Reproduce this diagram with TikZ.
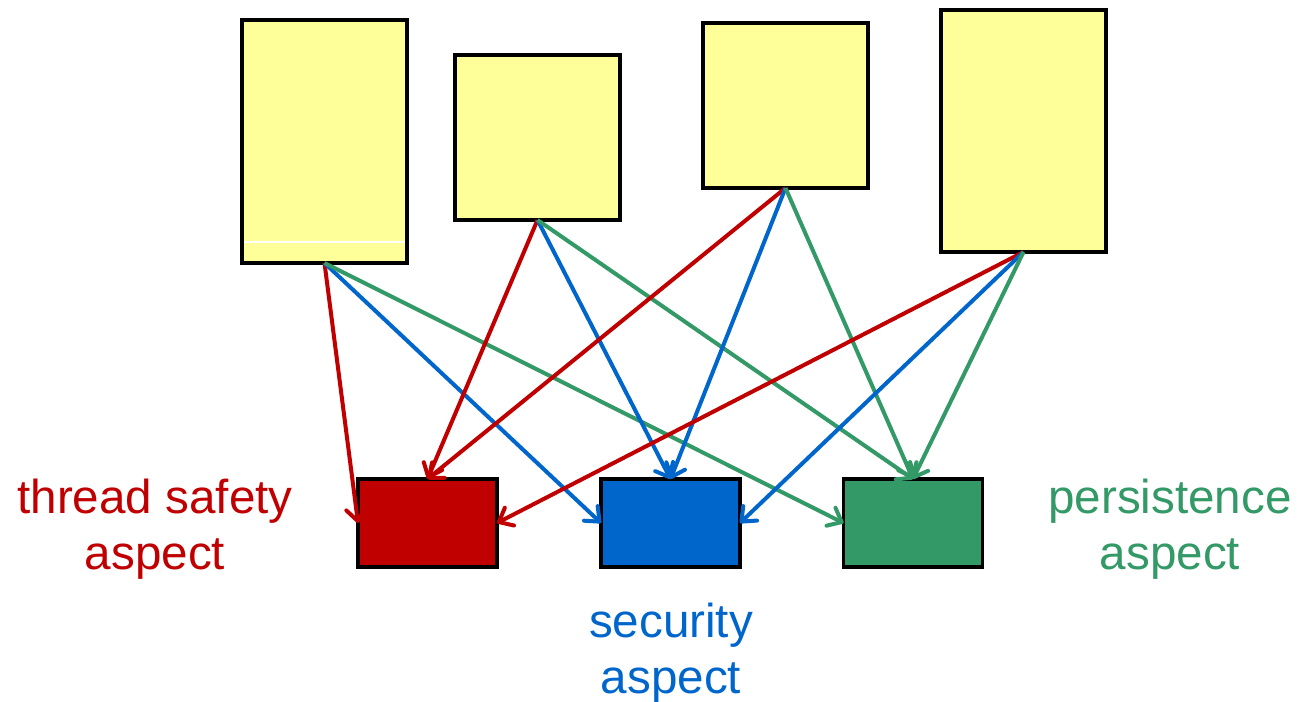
\documentclass[tikz,border=0pt]{standalone}
\usepackage{fontspec}
\setmainfont{Liberation Sans}
\usetikzlibrary{arrows.meta}
\definecolor{cred}{HTML}{C00000}
\definecolor{cblue}{HTML}{0066CC}
\definecolor{cgreen}{HTML}{339966}
\definecolor{pale}{HTML}{FFFF99}
\tikzset{
  module/.style={draw=black, fill=pale, line width=3.2pt, inner sep=0pt, outer sep=0pt},
  aspectbox/.style={draw=black, line width=3.2pt, inner sep=0pt, outer sep=0pt,
    minimum width=139pt, minimum height=88pt},
  link/.style={line width=4pt, -{Straight Barb[length=12pt,width=20pt,line width=4pt,round]}},
  lbl/.style={font=\fontsize{47.6}{56}\selectfont, align=center, inner sep=0pt}
}
\begin{document}
\begin{tikzpicture}[x=1pt,y=-1pt]
\useasboundingbox (0,0) rectangle (1297,701);
% code modules
\node[module, minimum width=165pt, minimum height=243pt] (m1) at (324.5,141.5) {};
\node[module, minimum width=165pt, minimum height=165pt] (m2) at (537.5,137.5) {};
\node[module, minimum width=165pt, minimum height=165pt] (m3) at (785.5,105.5) {};
\node[module, minimum width=165pt, minimum height=242pt] (m4) at (1023.5,131) {};
\draw[white, line width=1.6pt] ([xshift=2pt,yshift=21pt]m1.south west) -- ([xshift=-2pt,yshift=21pt]m1.south east);
% aspects
\node[aspectbox, fill=cred] (ts) at (427.5,523) {};
\node[aspectbox, fill=cblue] (sec) at (670.5,523) {};
\node[aspectbox, fill=cgreen] (per) at (913,523) {};
% cross-cutting links
\draw[link, cred] (m1.south) -- (ts.west);
\draw[link, cblue] (m1.south) -- (sec.west);
\draw[link, cgreen] (m1.south) -- (per.west);
\draw[link, cred] (m2.south) -- (ts.north);
\draw[link, cblue] (m2.south) -- (sec.north);
\draw[link, cgreen] (m2.south) -- (per.north);
\draw[link, cred] (m3.south) -- (ts.north);
\draw[link, cblue] (m3.south) -- (sec.north);
\draw[link, cgreen] (m3.south) -- (per.north);
\draw[link, cred] (m4.south) -- (ts.east);
\draw[link, cblue] (m4.south) -- (sec.east);
\draw[link, cgreen] (m4.south) -- (per.north);
% labels
\node[lbl, text=cred] (tsl) at (155,529) {thread safety\\aspect};
\node[lbl, text=cblue] (secl) at (671,653) {security\\aspect};
\node[lbl, text=cgreen] (perl) at (1170,529) {persistence\\aspect};
\end{tikzpicture}
\end{document}
